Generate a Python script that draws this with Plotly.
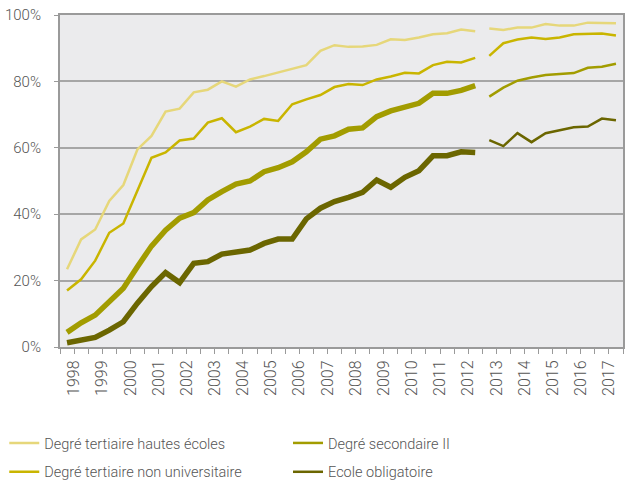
import plotly.graph_objects as go

years = list(range(1998, 2018))
# semester positions: first half (S1) and second half (S2) of each year
split_year = 2013  # series are drawn as two separate segments

hautes_ecoles = [23.4, 32.4, 35.4, 44.0, 48.8, 59.5, 63.6, 70.9, 71.8, 76.7,
                 77.5, 80.0, 78.4, 80.6, 81.6, 82.7, 83.7, 84.9, 89.2, 90.9,
                 90.4, 90.5, 91.0, 92.7, 92.5, 93.2, 94.2, 94.5, 95.6, 95.1,
                 95.9, 95.5, 96.2, 96.2, 97.3, 96.8, 96.8, 97.7, 97.6, 97.5]
non_universitaire = [17.0, 20.4, 26.0, 34.4, 37.2, 47.0, 57.0, 58.6, 62.2, 62.8,
                     67.6, 68.9, 64.7, 66.4, 68.7, 68.1, 73.1, 74.6, 75.9, 78.3,
                     79.2, 78.9, 80.6, 81.5, 82.6, 82.4, 84.9, 85.9, 85.7, 87.1,
                     87.7, 91.5, 92.6, 93.2, 92.8, 93.2, 94.2, 94.4, 94.4, 93.8]
secondaire_II = [4.4, 7.3, 9.6, 13.9, 17.7, 24.2, 30.4, 35.2, 38.8, 40.5,
                 44.3, 46.8, 49.1, 50.0, 52.8, 54.0, 55.8, 58.8, 62.6, 63.6,
                 65.6, 66.0, 69.4, 71.1, 72.4, 73.4, 76.4, 76.4, 77.3, 78.7,
                 75.4, 78.1, 80.2, 81.2, 81.9, 82.1, 82.5, 84.1, 84.4, 85.3]
obligatoire = [1.3, 2.1, 2.9, 5.1, 7.6, 13.2, 18.2, 22.4, 19.4, 25.2,
               25.7, 28.0, 28.4, 29.2, 31.2, 32.5, 32.5, 38.6, 41.8, 43.8,
               45.1, 46.6, 50.3, 48.1, 51.1, 53.1, 57.6, 57.6, 58.8, 58.6,
               62.3, 60.5, 64.4, 61.7, 64.4, 65.4, 66.2, 66.4, 68.8, 68.3]

series_names = ["Degré tertiaire hautes écoles", "Degré tertiaire non universitaire",
                "Degré secondaire II", "Ecole obligatoire"]
series_values = [hautes_ecoles, non_universitaire, secondaire_II, obligatoire]
colors = ["#e6d77a", "#c9b500", "#a29c00", "#6b6600"]
width_first = [2.5, 2.5, 5.5, 5.5]
width_second = [2.5, 2.5, 2.5, 2.5]
legend_ids = ["legend", "legend", "legend2", "legend2"]

x_pos = []
for y in years:
    x_pos += [y + 0.25, y + 0.75]
n_first = sum(1 for x in x_pos if x < split_year)

fig = go.Figure()
for name, vals, col, w1, w2, lg in zip(series_names, series_values, colors,
                                       width_first, width_second, legend_ids):
    fig.add_trace(go.Scatter(x=x_pos[:n_first], y=vals[:n_first], mode="lines",
                             name=name, legendgroup=name, showlegend=False,
                             legend=lg, line=dict(color=col, width=w1)))
    fig.add_trace(go.Scatter(x=x_pos[n_first:], y=vals[n_first:], mode="lines",
                             name=name, legendgroup=name, showlegend=True,
                             legend=lg, line=dict(color=col, width=w2)))

tickvals = []
ticktext = []
for y in years:
    tickvals += [y, y + 0.5]
    ticktext += ["", str(y)]
tickvals.append(years[-1] + 1)
ticktext.append("")

font_family = "Roboto"
legend_common = dict(orientation="v", yanchor="top", xanchor="left",
                     font=dict(size=14.5, color="#555555", family=font_family, weight=300),
                     tracegroupgap=7, itemwidth=30, bgcolor="rgba(0,0,0,0)")
fig.update_layout(
    width=625, height=480,
    margin=dict(l=60, r=2, t=15, b=133, autoexpand=False),
    paper_bgcolor="white",
    plot_bgcolor="#ebebed",
    font=dict(family=font_family, size=14, color="#555555", weight=300),
    showlegend=True,
    legend=dict(x=-0.099, y=-0.241, **legend_common),
    legend2=dict(x=0.405, y=-0.241, **legend_common),
    xaxis=dict(range=[years[0], years[-1] + 1], tickmode="array",
               tickvals=tickvals, ticktext=ticktext, tickangle=-90,
               showgrid=False, zeroline=False, automargin=False,
               showline=True, linecolor="#9a9a9a", linewidth=2, mirror=True,
               ticks="outside", ticklen=5, tickcolor="#9a9a9a", tickwidth=1,
               tickfont=dict(size=16, color="#555555")),
    yaxis=dict(range=[0, 100], dtick=20, ticksuffix="%", automargin=False,
               showgrid=True, gridcolor="#a6a6a6", gridwidth=1.5,
               zeroline=False, ticklabelstandoff=10,
               showline=True, linecolor="#9a9a9a", linewidth=2, mirror=True,
               ticks="outside", ticklen=4, tickcolor="#9a9a9a",
               tickfont=dict(size=15, color="#555555")),
)

fig.write_html("out.html", config={"displayModeBar": False},
               post_script="document.body.style.margin='0';document.body.style.overflow='hidden';")
